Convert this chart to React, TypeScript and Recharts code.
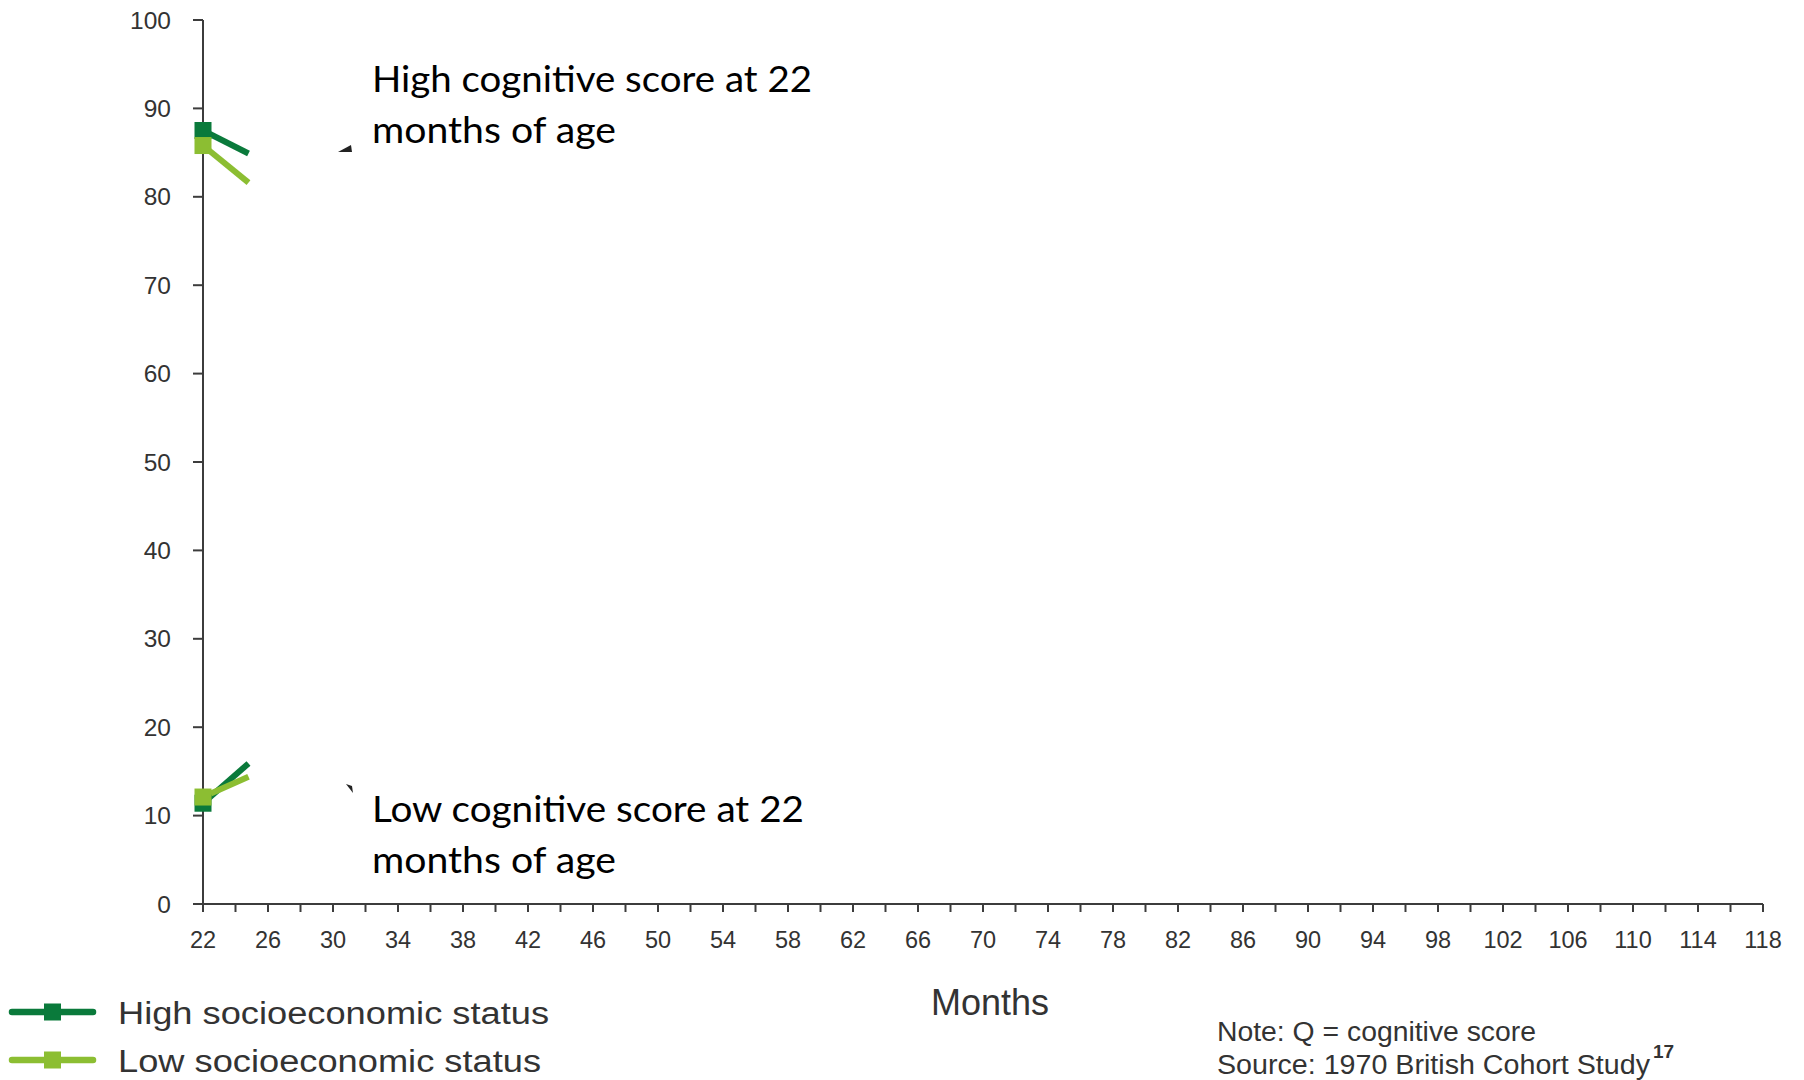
import {
  LineChart,
  Line,
  XAxis,
  YAxis,
  Legend,
  Label,
  Customized,
} from "recharts";

// visible part of the curves (rest is hidden in the reference)
const months = [22, 24.8];
const highSesHighQ = [87.5, 84.9];
const lowSesHighQ = [85.8, 81.6];
const highSesLowQ = [11.4, 15.9];
const lowSesLowQ = [12.1, 14.4];

const monthTicks = [
  22, 24, 26, 28, 30, 32, 34, 36, 38, 40, 42, 44, 46, 48, 50, 52, 54, 56, 58,
  60, 62, 64, 66, 68, 70, 72, 74, 76, 78, 80, 82, 84, 86, 88, 90, 92, 94, 96,
  98, 100, 102, 104, 106, 108, 110, 112, 114, 116, 118,
];
const scoreTicks = [0, 10, 20, 30, 40, 50, 60, 70, 80, 90, 100];

const legendItems = [
  { label: "High socioeconomic status", color: "#0a7a3b", len: 431 },
  { label: "Low socioeconomic status", color: "#8cbe32", len: 423 },
];

const DARK = "#0a7a3b";
const LIGHT = "#8cbe32";
const AXIS = "#3c3c3c";
const SANS = "'Liberation Sans', Arial, Helvetica, sans-serif";
const NOTE_FONT = "Lato, 'Open Sans', sans-serif";

const data = months.map((m, i) => ({
  month: m,
  highSesHighQ: highSesHighQ[i],
  lowSesHighQ: lowSesHighQ[i],
  highSesLowQ: highSesLowQ[i],
  lowSesLowQ: lowSesLowQ[i],
}));

// square marker only on the first point
const squareDot = (color: string) => (props: any) => {
  const { cx, cy, index } = props;
  if (index !== 0) return <g key={`d-${index}`} />;
  return (
    <rect
      key={`d-${index}`}
      x={cx - 8.5}
      y={cy - 8.5}
      width={17}
      height={17}
      fill={color}
    />
  );
};

const renderLegend = () => (
  <svg width={600} height={95}>
    {legendItems.map((it, i) => {
      const cy = 27 + i * 48;
      return (
        <g key={it.label}>
          <line
            x1={12}
            x2={93}
            y1={cy}
            y2={cy}
            stroke={it.color}
            strokeWidth={6.5}
            strokeLinecap="round"
          />
          <rect x={44} y={cy - 8.5} width={17} height={17} fill={it.color} />
          <text
            x={118}
            y={cy + 12}
            fontSize={31}
            fill="#333"
            fontFamily={SANS}
            textLength={it.len}
            lengthAdjust="spacingAndGlyphs"
          >
            {it.label}
          </text>
        </g>
      );
    })}
  </svg>
);

const Notes = () => (
  <g>
    <text
      x={372}
      y={92}
      fontSize={37}
      fill="#000"
      fontFamily={NOTE_FONT}
      textLength={440}
      lengthAdjust="spacingAndGlyphs"
    >
      High cognitive score at 22
    </text>
    <text
      x={372}
      y={143}
      fontSize={37}
      fill="#000"
      fontFamily={NOTE_FONT}
      textLength={244}
      lengthAdjust="spacingAndGlyphs"
    >
      months of age
    </text>
    <polygon points="338,152 351,145 352,152" fill="#222" />
    <text
      x={372}
      y={822}
      fontSize={37}
      fill="#000"
      fontFamily={NOTE_FONT}
      textLength={432}
      lengthAdjust="spacingAndGlyphs"
    >
      Low cognitive score at 22
    </text>
    <text
      x={372}
      y={873}
      fontSize={37}
      fill="#000"
      fontFamily={NOTE_FONT}
      textLength={244}
      lengthAdjust="spacingAndGlyphs"
    >
      months of age
    </text>
    <polygon points="346,784 352,786 353,793" fill="#222" />

    <text
      x={1217}
      y={1041}
      fontSize={27}
      fill="#333"
      fontFamily={SANS}
      textLength={319}
      lengthAdjust="spacingAndGlyphs"
    >
      Note: Q = cognitive score
    </text>
    <text
      x={1217}
      y={1074}
      fontSize={27}
      fill="#333"
      fontFamily={SANS}
      textLength={433}
      lengthAdjust="spacingAndGlyphs"
    >
      Source: 1970 British Cohort Study
    </text>
    <text
      x={1653}
      y={1058}
      fontSize={19}
      fontWeight="bold"
      fill="#333"
      fontFamily={SANS}
    >
      17
    </text>
  </g>
);

export default function App() {
  return (
    <div style={{ position: "absolute", left: 0, top: 0, background: "#fff" }}>
      <LineChart
        width={1804}
        height={1080}
        data={data}
        margin={{ top: 20, right: 41, bottom: 116, left: 0 }}
      >
        <XAxis
          dataKey="month"
          type="number"
          domain={[22, 118]}
          ticks={monthTicks}
          interval={0}
          height={60}
          tickSize={8}
          tickMargin={19}
          stroke={AXIS}
          strokeWidth={2}
          tick={{ fontSize: 23.5, fill: "#333", fontFamily: SANS }}
          tickFormatter={(v: number) => ((v - 22) % 4 === 0 ? String(v) : "")}
        >
          <Label
            value="Months"
            position="bottom"
            offset={25}
            dx={7}
            fill="#333"
            fontSize={36}
            fontFamily={SANS}
          />
        </XAxis>
        <YAxis
          type="number"
          domain={[0, 100]}
          ticks={scoreTicks}
          interval={0}
          width={203}
          tickSize={10}
          tickMargin={22}
          stroke={AXIS}
          strokeWidth={2}
          tick={{ fontSize: 24.5, fill: "#333", fontFamily: SANS }}
        />
        <Legend
          layout="vertical"
          align="center"
          verticalAlign="middle"
          content={renderLegend}
          wrapperStyle={{ position: "absolute", left: 0, top: 985, width: 600, height: 95 }}
        />
        <Line
          dataKey="highSesHighQ"
          stroke={DARK}
          strokeWidth={6}
          dot={squareDot(DARK)}
          activeDot={false}
          isAnimationActive={false}
        />
        <Line
          dataKey="highSesLowQ"
          stroke={DARK}
          strokeWidth={6}
          dot={squareDot(DARK)}
          activeDot={false}
          isAnimationActive={false}
        />
        <Line
          dataKey="lowSesHighQ"
          stroke={LIGHT}
          strokeWidth={6}
          dot={squareDot(LIGHT)}
          activeDot={false}
          isAnimationActive={false}
        />
        <Line
          dataKey="lowSesLowQ"
          stroke={LIGHT}
          strokeWidth={6}
          dot={squareDot(LIGHT)}
          activeDot={false}
          isAnimationActive={false}
        />
        <Customized component={Notes} />
      </LineChart>
    </div>
  );
}
